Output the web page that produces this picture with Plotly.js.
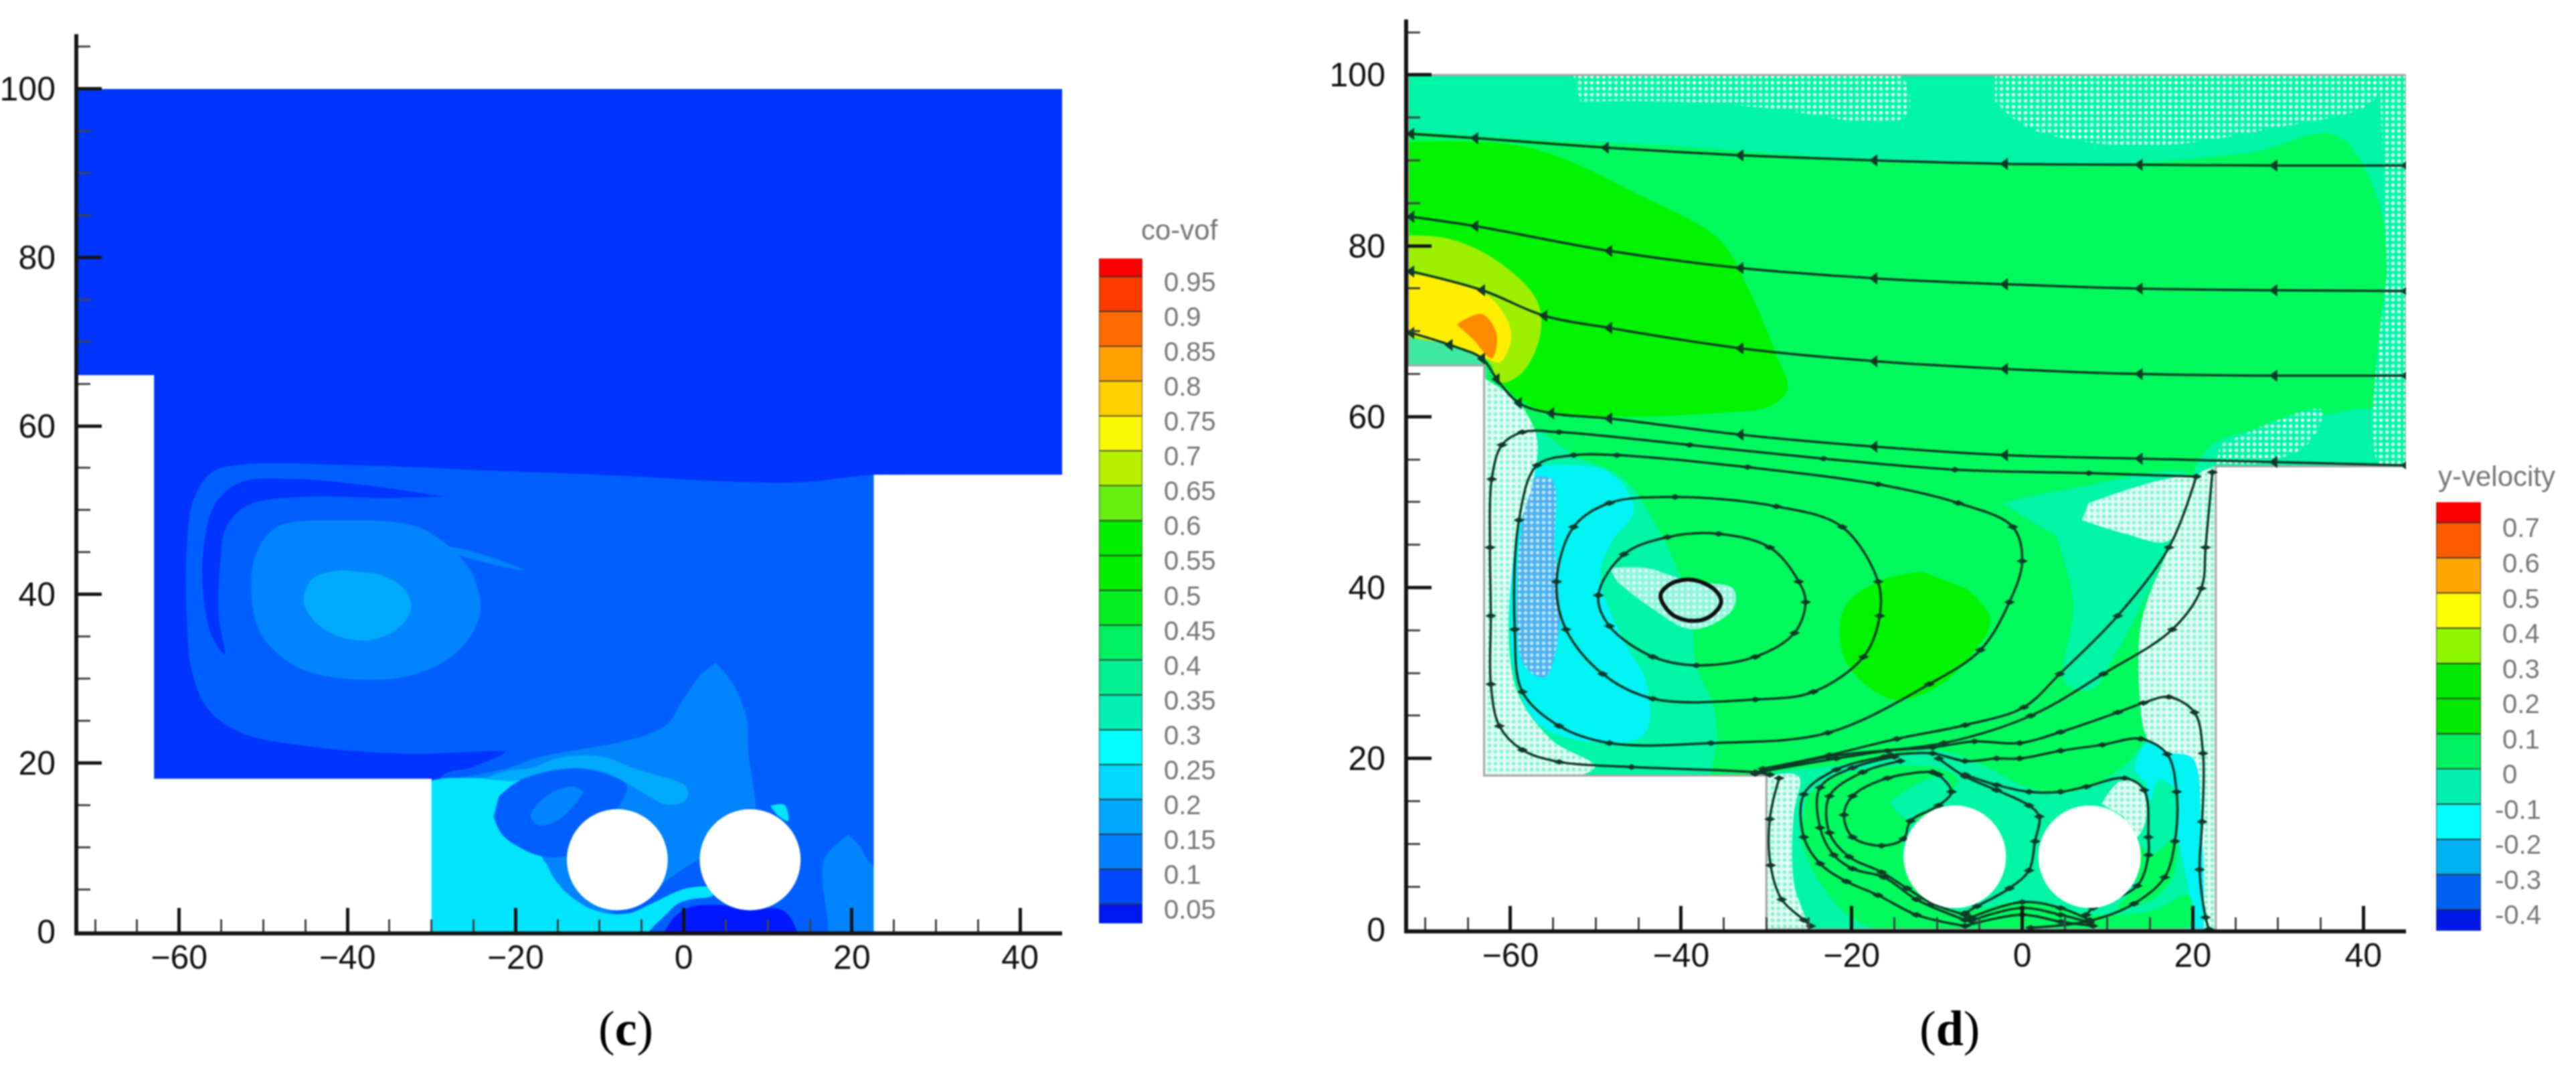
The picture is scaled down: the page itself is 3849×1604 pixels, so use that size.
<!DOCTYPE html>
<html>
<head>
<meta charset="utf-8">
<script src="https://cdn.plot.ly/plotly-3.0.1.min.js"></script>
<style>
html, body { margin: 0; padding: 0; background: #fff; }
#chart { width: 3849px; height: 1604px; filter: blur(1.1px); }
</style>
</head>
<body>
<div id="chart"></div>
<script>
// ---- legend data
const vofLow = [0, .05, .1, .15, .2, .25, .3, .35, .4, .45, .5, .55, .6, .65, .7, .75, .8, .85, .9, .95];
const vofColors = ['#0018f0', '#0048ff', '#0080ff', '#00a8ff', '#00d8ff', '#00ffff', '#00f0b8', '#00f090', '#00f060', '#00ee20',
    '#00ee00', '#00ee00', '#66ee11', '#b4f000', '#f8f800', '#ffd000', '#ffa000', '#ff6a00', '#ff3a00', '#ff0000'];
const vofTicks = [.05, .1, .15, .2, .25, .3, .35, .4, .45, .5, .55, .6, .65, .7, .75, .8, .85, .9, .95];
const vofLabels = ['0.05', '0.1', '0.15', '0.2', '0.25', '0.3', '0.35', '0.4', '0.45', '0.5', '0.55', '0.6', '0.65', '0.7', '0.75', '0.8', '0.85', '0.9', '0.95'];

const velLow = [-.6, -.4, -.3, -.2, -.1, 0, .1, .2, .3, .4, .5, .6, .7];
const velHeight = [.2, .1, .1, .1, .1, .1, .1, .1, .1, .1, .1, .1, .2];
const velColors = ['#0018e8', '#0060f0', '#00b0f0', '#00ffff', '#00f0b0', '#00f060', '#00e800', '#00e800', '#90f500', '#ffff00', '#ffa500', '#ff5a00', '#ff0000'];
const velTicks = [-.4, -.3, -.2, -.1, 0, .1, .2, .3, .4, .5, .6, .7];
const velLabels = ['-0.4', '-0.3', '-0.2', '-0.1', '\u00A00', '\u00A00.1', '\u00A00.2', '\u00A00.3', '\u00A00.4', '\u00A00.5', '\u00A00.6', '\u00A00.7'];

// ---- cylinders
const cylX = [-7.9, 7.9];
const cylY = [8.5, 8.5];
const cylR = [6, 6];

// ---- panel (c) regions
const cDomX = [-72, 45, 45, 22.6, 22.6, -30, -30, -63, -63, -72];
const cDomY = [100, 100, 54.2, 54.2, 0, 0, 18.1, 18.1, 66, 66];

const cSwirlX = [26, 22.6, 13.7, 5.1, -7.8, -20.8, -38, -52.7, -56.1, -58.3, -59.1, -59.1, -58.5, -56.6, -52.7, -44.9, -32.8, -22.5, -21.2, -25.1, -29, -33, 26];
const cSwirlY = [54.2, 54.2, 53.3, 53.4, 54.1, 54.6, 55.3, 55.4, 54.5, 51.2, 45.5, 37.4, 30.9, 26.4, 23.6, 22, 21.1, 21.4, 21.3, 19.5, 18.2, -3, -3];
const cStripX = [-28.5, -38, -46.6, -52.7, -55.7, -57, -57.2, -56.1, -54.6, -55.3, -55.1, -54.4, -51.8, -44.9, -36.3];
const cStripY = [51.6, 53, 53.7, 53.3, 50.8, 46.3, 40.7, 35, 32.9, 37.4, 43.9, 48, 50.6, 51.6, 51.4];
const cEyeX = [-42.3, -48.4, -50.9, -51.4, -50.1, -45.8, -38.9, -32, -26.8, -24.2, -25.1, -27.7, -31.6, -37.2];
const cEyeY = [48.8, 48, 44.7, 39.8, 35, 31.3, 29.9, 30.5, 33.3, 37.8, 42.3, 45.5, 48, 48.8];
const cTailX = [-31.3, -25.1, -19.1, -22.5, -27.7, -31.1];
const cTailY = [46.2, 45.1, 42.9, 43.5, 44.9, 45.8];
const cCoreX = [-40.6, -44.1, -45.2, -44.1, -41, -37.2, -33.7, -32.4, -33.7, -36.7];
const cCoreY = [42.9, 41.9, 39.4, 37, 35, 34.6, 36.2, 38.6, 41.1, 42.5];
const cPlumeX = [3.8, 5.9, 7.5, 7.7, 8.3, 8.5, 7.7, 1.8, .05, -1.8, -8, -31, -31, -29, -25.8, -20.9, -17.1, -12.9, -8.3, -4.5, -1.85, -.33, .8, 2];
const cPlumeY = [31.9, 29.3, 25.2, 21.1, 17.1, 14.6, 14.6, 8.6, 7.5, 6.2, 2.5, -3, 17.5, 18.1, 18.4, 19.4, 20.7, 21.5, 22.3, 23.3, 24.7, 27.1, 28.8, 30.5];
const cCyanX = [-31, -29, -25.8, -22, -20.1, -16.7, -16.3, -15.5, -13.6, -10.6, -6.8, -3.8, -1.1, .8, 3.1, 3.5, .8, -.7, -2.2, -4.1, -6, -31];
const cCyanY = [17.5, 18.1, 18.2, 18.2, 18.6, 8.5, 8, 6.4, 4.3, 2.5, 2.1, 3.3, 4.6, 5.2, 5.2, 4.3, 3.8, 3.3, 1.9, 0, -3, -3];
const cLobeX = [-22, -19.7, -16.3, -12.5, -9.1, -6.8, -7.9, -13.6, -16.7, -19.4, -21.6, -22.6];
const cLobeY = [16, 17.8, 18.9, 19.3, 18.6, 17.3, 14.6, 9.1, 8.9, 9.9, 11.5, 13.6];
const cLobeInX = [-12.9, -14.8, -17.1, -18.2, -17.1, -14.8, -12.7, -11.9];
const cLobeInY = [17.2, 16.9, 15.4, 13.6, 12.6, 13.3, 15.4, 16.6];
const cArcX = [-23.9, -20.9, -18.2, -15.2, -12.1, -9.1, -6, -3, .05, .55, .05, -2.2, -4.1, -6.8, -9.1, -12.5, -16.3, -20.1];
const cArcY = [18.1, 19.1, 19.4, 20.5, 20.9, 20.6, 19.4, 18.5, 17.4, 16.5, 15.4, 15.1, 16, 17.6, 18.8, 19.4, 19, 17.8];
const cFootX = [-2.2, -1.1, .8, 4.6, 6.9, 11.8, 13.4, 13.4, -2.2];
const cFootY = [.1, 1.7, 2.9, 3.1, 2.6, 2.5, .1, -2, -2];
const cWallX = [19.6, 16.8, 16.5, 17.2, 17.2, 26, 26, 22.6, 21];
const cWallY = [11.5, 8.8, 6.4, .5, -3, -3, 7.8, 7.8, 10.1];
const cBitX = [10.3, 12, 12.4, 11.1];
const cBitY = [14.9, 15, 13.1, 13.8];

const cMaskLeftX = [-72, -63, -63, -30, -30, -72];
const cMaskLeftY = [66, 66, 18.1, 18.1, 0, 0];
const cMaskRightX = [22.6, 45, 45, 22.6];
const cMaskRightY = [54.2, 54.2, 0, 0];
const maskTopX = [-72, 45, 45, -72];
const maskTopY = [100, 100, 107, 107];

// ---- panel (d) regions
const dDomX = [-72, 45, 45, 22.7, 22.7, -30, -30, -63.1, -63.1, -72];
const dDomY = [100, 100, 54.2, 54.2, 0, 0, 18, 18, 66, 66];

const dTopX = [-75, 48, 48, 22.7, 20.2, 22.3, 30, 38.5, 41.9, 42.8, 41.9, 36.8, 26.6, 9.5, -16, -41.6, -58.6, -75];
const dTopY = [103, 103, 52, 52, 53.1, 56.7, 59.1, 60.8, 61.6, 72.8, 84.8, 92.9, 90.9, 89.6, 90, 91.7, 92.5, 93.7];
const dDots1X = [-52.6, -14.3, -13.5, -17.7, -29.6, -41.6, -51.8];
const dDots1Y = [99.9, 99.9, 95.3, 94.5, 96.1, 96.9, 96.9];
const dDots2X = [-3.2, 41.9, 41.1, 29.1, 13.8, 1, -3.2];
const dDots2Y = [99.9, 99.9, 96.9, 93.7, 91.7, 93.7, 96.9];
const dDots3X = [41.9, 45, 45, 41.9, 42.8];
const dDots3Y = [99.9, 99.9, 54.3, 54.3, 76.8];
const dDots4X = [23.2, 35.1, 33.4, 26.6, 22.7];
const dDots4Y = [56.7, 60.8, 56.7, 54.3, 54.2];

const dGreenX = [-75, -60.3, -54.3, -45.8, -35.6, -32.2, -28.8, -27.5, -29.6, -36.5, -46.7, -55.2, -59.5, -62, -63.3, -75];
const dGreenY = [92.1, 91.9, 90.4, 86.4, 80.8, 75.2, 67.2, 63.2, 61.2, 60.4, 60, 60.4, 62.4, 65.6, 67.2, 68.8];
const dLimeX = [-75, -67.1, -61.2, -56.9, -56.5, -58.6, -61.2, -62.9, -75];
const dLimeY = [81.2, 80.8, 78, 73.6, 69.6, 65.2, 64, 66.8, 69.6];
const dYellowX = [-75, -67.1, -62, -59.9, -61.2, -62.9, -66.3, -75];
const dYellowY = [76.8, 76, 73.6, 69.6, 66.4, 66.8, 68, 70.4];
const dOrangeX = [-66.3, -63.3, -61.6, -62.2, -64.1];
const dOrangeY = [70.8, 72, 69.6, 66.8, 68.8];
const dCornerX = [-75, -67.1, -63.3, -63.1, -75];
const dCornerY = [69.6, 68.4, 66.8, 64, 64];
const dBlobX = [-11.8, -16.9, -20.7, -21.4, -20.3, -15.2, -10.1, -5.8, -3.7, -6.6];
const dBlobY = [41.9, 40.7, 37.9, 34.3, 30.7, 26.9, 28.3, 32.3, 36.3, 39.9];

const dTealX = [-66, -62.9, -56.9, -52.6, -46.7, -42.4, -39, -38.2, -36, -36, -38.2, -66];
const dTealY = [60, 57.5, 58.3, 55.5, 52.7, 46.3, 38.3, 31.1, 25.4, 20.6, 16, 16];
const dCyanX = [-56.9, -48.4, -45.5, -48, -49.5, -47, -44, -44.5, -56, -59.5, -59.5];
const dCyanY = [54.3, 53.5, 49.1, 45.5, 41.5, 34.3, 28.7, 22.6, 23.5, 30.3, 48.7];
const dBlueX = [-58, -55.2, -54.8, -54.3, -56, -58.5, -59];
const dBlueY = [52.7, 52.7, 44.7, 35.1, 29.5, 31.1, 44.7];
const dWallX = [-66, -62.9, -59, -56.9, -57.3, -59.5, -59.5, -55.2, -50.1, -62.9, -66];
const dWallY = [66, 64.4, 61.6, 57.5, 52.7, 44.7, 28.7, 22.2, 19, 16, 16];
const dStarX = [-48.4, -44.1, -39, -33.9, -33.9, -38.6, -43.3, -47.5];
const dStarY = [42.3, 42.3, 40.7, 39.9, 37.5, 35.1, 37.5, 40.7];

const dMidTealX = [-2.4, 5.3, 19.8, 17.2, 11.2, 8, 5, 6, 4];
const dMidTealY = [49.9, 51.5, 53, 44.7, 32.7, 28, 29, 38, 46];
const dPaleRX = [26, 22.7, 20.4, 17.2, 14, 13.8, 14.7, 18.1, 20.6, 21.5, 26];
const dPaleRY = [54.2, 54.2, 53, 44.7, 36, 27, 22.2, 18.2, 8.6, -3, -3];
const dPatchX = [7.8, 20.2, 17.2, 12.1, 7];
const dPatchY = [49.9, 52.7, 45.5, 46.3, 47.9];

const dLowTealX = [-33, -30, -21.9, -14.4, -9.5, -4.6, .7, 4.8, 8.2, 11.6, 14.2, 15.3, 19.5, 26, 26, -33];
const dLowTealY = [16, 18.1, 19.2, 20.6, 20.9, 19.2, 16.6, 16, 16.8, 18.9, 21.8, 23.9, 26.5, 26.5, -3, -3];
const dLowCyanX = [13.1, 14.6, 17.2, 20, 21, 21.3, 21, 20.2, 19.5, 18.3, 18.2, 16, 15, 14.6];
const dLowCyanY = [18.7, 21.8, 20.7, 20, 12, 4, -1, -1, 4.8, 10.8, 16, 17.5, 15, 17];
const dLowPaleX = [-33, -29.8, -26.2, -26.8, -26.8, -24.9, -33];
const dLowPaleY = [16, 17.9, 17.9, 13.4, 5.6, -2, -2];
const dLowGreenX = [-25.3, -21.9, -16.2, -9.9, -7.6, -9.9, -13.2, -14, -12.1, -7.6, -.1, 8.2, 15.3, 19.5, 19.5, -18.1, -23.8, -26];
const dLowGreenY = [15.5, 17.9, 19, 18.9, 17.6, 14.2, 11.9, 8.2, 4.8, 2.2, 3.2, 1.7, 2.2, 4, .4, .4, 5.6, 10.8];
const dInnerX = [-15.5, -12.1, -9.1, -8.3, -10.6, -13.2, -14.7];
const dInnerY = [15, 17.1, 17.9, 16, 14.2, 12.9, 13.7];
const dLobeRX = [13.4, 15, 18, 17.6, 15.3, 11.2, 13.4];
const dLobeRY = [10.8, 8.7, 10.5, 6.1, 3.5, 2.5, 5];
const dPaleUpX = [9.3, 11.6, 13.8, 14.6, 13.4, 11.9];
const dPaleUpY = [14.7, 17.4, 16.8, 13.4, 10.8, 13.2];

const dMaskLeftX = [-72, -63.1, -63.1, -30, -30, -72];
const dMaskLeftY = [66, 66, 18, 18, 0, 0];
const dMaskRightX = [22.7, 45, 45, 22.7];
const dMaskRightY = [54.2, 54.2, 0, 0];

// ---- panel (d) streamlines
const s1X = [-71.6, -64.1, -48.8, -33, -17.3, -2, 13.8, 29.6, 45];
const s1Y = [93.1, 92.6, 91.5, 90.6, 90, 89.6, 89.5, 89.4, 89.4];
const s2X = [-71.6, -64.1, -48.4, -33, -17.3, -2, 13.8, 29.6, 45];
const s2Y = [83.4, 82.3, 79.4, 77.4, 76.2, 75.5, 75, 74.8, 74.7];
const s3X = [-71.6, -63.3, -56, -48.4, -33, -17.3, -2, 13.8, 29.6, 45];
const s3Y = [77, 74.8, 71.8, 70.4, 68, 66.5, 65.6, 65, 64.8, 64.8];
const s4X = [-71.6, -67.1, -63.3, -61.6, -59, -55.2, -48.4, -33, -17.3, -2, 13.8, 29.6, 45];
const s4Y = [69.8, 68.4, 66.8, 64.4, 61.6, 60.4, 59.8, 57.9, 56.5, 55.5, 55.1, 54.7, 54.3];
const s5X = [20.4, 7.8, -7.9, -23.3, -39, -54.3, -58.6, -61, -62.2, -62.4, -62.3, -62.3, -61.3, -58.6, -54.3, -45.8, -31.3, -29.6];
const s5Y = [53, 53.4, 53.8, 55.1, 56.7, 58.2, 58.2, 56.7, 52.7, 44.7, 36.7, 28.7, 23.8, 21, 19.6, 19, 18.4, 18.1];

const v0X = [-42.4, -41.1, -38.6, -36, -35.3, -36.5, -38.6, -41.1, -42.4];
const v0Y = [39.1, 40.5, 40.9, 39.7, 38.3, 36.7, 36.1, 36.9, 39.1];
const v1X = [-49.7, -46.7, -41.6, -35.6, -29.6, -26.2, -25.4, -26.7, -31.3, -38.2, -43.3, -48.4, -49.7];
const v1Y = [39.1, 43.9, 45.9, 46.3, 44.7, 40.7, 38.3, 34.7, 31.9, 30.9, 31.9, 35.5, 39.1];
const v2X = [-54.6, -52.6, -48.4, -40.7, -28.8, -21.1, -16.9, -16.7, -18.6, -24.5, -31.3, -43.3, -49.2, -53.5, -54.6];
const v2Y = [40.7, 47.1, 49.9, 50.6, 49.5, 47.1, 40.7, 36.7, 31.9, 27.8, 26.9, 27, 29.9, 35.1, 40.7];
const v3X = [-59.5, -59, -56.9, -52.6, -47.5, -32.2, -16.9, -7.5, -1.1, 0, -1.5, -4.9, -10.9, -22.8, -36.5, -48.4, -54.3, -58.6, -59.5];
const v3Y = [35.1, 47.9, 54.3, 55.5, 55.5, 54.1, 52.1, 49.9, 47.1, 43.1, 38.3, 32.7, 28.7, 23, 21.8, 21.8, 23.8, 27.8, 35.1];

const aX = [-30.4, -22.6, -14.7, -6.7, .2, 4.4, 11.2, 17.2, 20.4];
const aY = [18.8, 20.4, 22.3, 23.9, 26, 29.9, 36.7, 44.7, 53];
const a2X = [22.3, 21.5, 21, 17.6, 9.5, 1, -9.2, -22.8, -31.3];
const a2Y = [53.5, 44.7, 39.9, 35.1, 29.9, 25, 21.8, 20.2, 18.2];
const bX = [-30.4, -21.8, -15.8, -10.5, -5.6, -.3, 4.5, 11.2, 14.2, 17.2, 20.2, 21.2, 21.1, 20.8, 21.5, 21.9];
const bY = [18.5, 20, 20.9, 21.3, 22, 21.8, 23.1, 25.4, 26.5, 27.2, 25.4, 20.6, 12.6, 7, 1.4, 0];
const cX = [-15.4, -10.5, -6.7, -3, -.3, 4.5, 9.4, 13.9, 17, 18.1, 17.9, 16.7, 13.1, 7.9, 1];
const cY = [20.4, 20.6, 19.7, 20, 20, 20.9, 21.6, 22.3, 20.5, 16.1, 10.3, 6.1, 3, 1, .2];
const dX = [-6.7, -3, .8, 4.5, 7.5, 12, 14.3, 14.8, 14.8, 13.5, 8.3, 7.5];
const dY = [18.1, 16.9, 16.1, 16.1, 16.7, 17.7, 16.3, 10.8, 8.7, 5.1, 2.5, 1.7];
const eX = [-9.8, -6.7, -3, .8, 2, 1.5, .8, -1.5, -5.3, -6.7];
const eY = [20, 17.9, 16.3, 14.5, 13.2, 10.3, 6.9, 4.8, 2.7, 1.9];
const l1X = [-28.5, -29.6, -29.5, -28.2, -25.6, -24.8];
const l1Y = [17.7, 12.9, 7.5, 3.5, 1.1, .4];
const l2X = [-16.2, -21.8, -25.6, -25.6, -23.7, -20.6, -16.9, -12.4, -6.7];
const l2Y = [20.2, 18.7, 15.8, 10.8, 7.7, 5.6, 4, 1.7, .4];
const l3X = [-15, -19.9, -23.7, -23.7, -22.1, -19.9, -16.2, -12.4, -6.7];
const l3Y = [20.2, 18.9, 16.6, 11.9, 8.7, 7.1, 6.1, 3.5, 1.1];
const l4X = [-14.3, -18.7, -22.6, -22.6, -20.3, -16.5, -13.5, -10.5, -6.7];
const l4Y = [19.7, 18.4, 15.6, 11.3, 8.5, 6.7, 4.8, 3, 1.7];
const l5X = [-10.5, -15.8, -19.9, -20.9, -19.9, -16.5, -13.9, -13.1, -9.8, -8.3, -9.8, -10.5];
const l5Y = [18.4, 17.7, 15.6, 13.4, 10.8, 9.8, 10.6, 12.7, 14.5, 16.1, 18.1, 18.4];
const f1X = [-6, 0, 4.5, 7.9];
const f1Y = [1.4, 3.2, 2.5, 1.1];
const f2X = [-6, 0, 4.5, 7.9];
const f2Y = [1, 2.5, 1.7, .8];
const f3X = [-6.7, 0, 4.5, 8.3];
const f3Y = [.4, 1.7, .9, .4];

const topLines = [[s1X, s1Y], [s2X, s2Y], [s3X, s3Y], [s4X, s4Y]];
const swirlLines = [[s5X, s5Y], [v1X, v1Y], [v2X, v2Y], [v3X, v3Y], [aX, aY], [a2X, a2Y], [bX, bY], [cX, cY], [dX, dY], [eX, eY],
    [l1X, l1Y], [l2X, l2Y], [l3X, l3Y], [l4X, l4Y], [l5X, l5Y], [f1X, f1Y], [f2X, f2Y], [f3X, f3Y]];

// ---- colours of the two fields
const blueDark = '#0034ff';
const blueMid = '#0060ff';
const blueLight = '#0084ff';
const blueSky = '#00aaff';
const cyanVof = '#00e4ff';
const blueDeep = '#0018ff';

const fieldGreen = '#00fa5e';
const fieldPure = '#00f400';
const fieldTeal = '#00f5a5';
const fieldCyan = '#00f4f4';
const fieldPale = '#e2fbf4';

function region(x, y, color, xa, ya) {
    return {
        x: x, y: y, xaxis: xa, yaxis: ya,
        type: 'scatter', mode: 'lines', fill: 'toself', fillcolor: color,
        line: {width: 1, color: 'rgba(0,0,0,0)', shape: 'spline', smoothing: 1},
        hoverinfo: 'skip', showlegend: false
    };
}

function flat(x, y, color, xa, ya) {
    const trace = region(x, y, color, xa, ya);
    trace.line.shape = 'linear';
    return trace;
}

function dotted(x, y, bg, fg, xa, ya) {
    const trace = region(x, y, bg, xa, ya);
    trace.fillpattern = {shape: '.', size: 9, solidity: 0.3, fgcolor: fg, bgcolor: bg};
    return trace;
}

function streamline(xy, symbol, size, width) {
    return {
        x: xy[0], y: xy[1], xaxis: 'x2', yaxis: 'y2',
        type: 'scatter', mode: 'lines+markers',
        line: {color: '#0f3a28', width: width, shape: 'spline', smoothing: 1},
        marker: {symbol: symbol, size: size, color: '#0f3a28'},
        hoverinfo: 'skip', showlegend: false
    };
}

const panelC = [
    flat(cDomX, cDomY, blueDark, 'x', 'y'),
    region(cSwirlX, cSwirlY, blueMid, 'x', 'y'),
    region(cStripX, cStripY, blueDark, 'x', 'y'),
    region(cEyeX, cEyeY, blueLight, 'x', 'y'),
    region(cTailX, cTailY, blueLight, 'x', 'y'),
    region(cCoreX, cCoreY, blueSky, 'x', 'y'),
    region(cPlumeX, cPlumeY, blueLight, 'x', 'y'),
    region(cCyanX, cCyanY, cyanVof, 'x', 'y'),
    region(cLobeX, cLobeY, blueMid, 'x', 'y'),
    region(cLobeInX, cLobeInY, blueLight, 'x', 'y'),
    region(cArcX, cArcY, blueSky, 'x', 'y'),
    region(cFootX, cFootY, blueDeep, 'x', 'y'),
    region(cWallX, cWallY, blueLight, 'x', 'y'),
    region(cBitX, cBitY, cyanVof, 'x', 'y'),
    flat(cMaskLeftX, cMaskLeftY, '#ffffff', 'x', 'y'),
    flat(cMaskRightX, cMaskRightY, '#ffffff', 'x', 'y'),
    flat(maskTopX, maskTopY, '#ffffff', 'x', 'y')
];

const speckTeal = '#7ff5d0';
const speckWhite = '#d8fdf2';

const panelD = [
    flat(dDomX, dDomY, fieldGreen, 'x2', 'y2'),
    region(dTopX, dTopY, fieldTeal, 'x2', 'y2'),
    dotted(dDots1X, dDots1Y, fieldTeal, speckWhite, 'x2', 'y2'),
    dotted(dDots2X, dDots2Y, fieldTeal, speckWhite, 'x2', 'y2'),
    dotted(dDots3X, dDots3Y, fieldTeal, speckWhite, 'x2', 'y2'),
    dotted(dDots4X, dDots4Y, fieldTeal, speckWhite, 'x2', 'y2'),
    region(dGreenX, dGreenY, fieldPure, 'x2', 'y2'),
    region(dLimeX, dLimeY, '#9cf000', 'x2', 'y2'),
    region(dYellowX, dYellowY, '#ffee00', 'x2', 'y2'),
    region(dOrangeX, dOrangeY, '#ff8a00', 'x2', 'y2'),
    region(dCornerX, dCornerY, '#40e8a0', 'x2', 'y2'),
    region(dBlobX, dBlobY, fieldPure, 'x2', 'y2'),
    region(dTealX, dTealY, fieldTeal, 'x2', 'y2'),
    region(dCyanX, dCyanY, fieldCyan, 'x2', 'y2'),
    dotted(dBlueX, dBlueY, '#4fb0f0', '#b8e8f5', 'x2', 'y2'),
    dotted(dWallX, dWallY, fieldPale, speckTeal, 'x2', 'y2'),
    dotted(dStarX, dStarY, '#8ef5de', speckWhite, 'x2', 'y2'),
    region(dMidTealX, dMidTealY, fieldTeal, 'x2', 'y2'),
    region(dLowTealX, dLowTealY, fieldTeal, 'x2', 'y2'),
    dotted(dPaleRX, dPaleRY, fieldPale, speckTeal, 'x2', 'y2'),
    dotted(dPatchX, dPatchY, fieldPale, speckTeal, 'x2', 'y2'),
    region(dLowCyanX, dLowCyanY, fieldCyan, 'x2', 'y2'),
    dotted(dLowPaleX, dLowPaleY, fieldPale, speckTeal, 'x2', 'y2'),
    region(dLowGreenX, dLowGreenY, fieldGreen, 'x2', 'y2'),
    region(dInnerX, dInnerY, fieldTeal, 'x2', 'y2'),
    region(dLobeRX, dLobeRY, fieldGreen, 'x2', 'y2'),
    dotted(dPaleUpX, dPaleUpY, fieldPale, speckTeal, 'x2', 'y2'),
    flat(dMaskLeftX, dMaskLeftY, '#ffffff', 'x2', 'y2'),
    flat(dMaskRightX, dMaskRightY, '#ffffff', 'x2', 'y2'),
    flat(maskTopX, maskTopY, '#ffffff', 'x2', 'y2'),
    {
        x: dDomX.concat(dDomX[0]), y: dDomY.concat(dDomY[0]), xaxis: 'x2', yaxis: 'y2',
        type: 'scatter', mode: 'lines', line: {color: '#a5a5a5', width: 3},
        hoverinfo: 'skip', showlegend: false
    }
];

const streams = topLines.map(function (xy) { return streamline(xy, 'triangle-left', 16, 3.5); })
    .concat(swirlLines.map(function (xy) { return streamline(xy, 'diamond-wide', 12, 3.5); }))
    .concat([{
        x: v0X, y: v0Y, xaxis: 'x2', yaxis: 'y2', type: 'scatter', mode: 'lines',
        line: {color: '#101010', width: 6, shape: 'spline', smoothing: 1},
        hoverinfo: 'skip', showlegend: false
    }]);

const legendC = {
    x: vofLow.map(function () { return 0; }), y: vofLow.map(function () { return .05; }), base: vofLow,
    xaxis: 'x3', yaxis: 'y3', type: 'bar', width: 1, orientation: 'v',
    marker: {color: vofColors, line: {color: '#333333', width: 1.5}},
    hoverinfo: 'skip', showlegend: false
};
const legendD = {
    x: velLow.map(function () { return 0; }), y: velHeight, base: velLow,
    xaxis: 'x4', yaxis: 'y4', type: 'bar', width: 1, orientation: 'v',
    marker: {color: velColors, line: {color: '#333333', width: 1.5}},
    hoverinfo: 'skip', showlegend: false
};

const W = 3849;
const H = 1604;
const tickFont = {family: 'Liberation Sans, Arial, sans-serif', size: 50, color: '#101010'};
const legendFont = {family: 'Liberation Sans, Arial, sans-serif', size: 40, color: '#777777'};

function fieldX(x0, x1, anchor) {
    return {
        domain: [x0 / W, x1 / W], anchor: anchor, range: [-72, 45], tick0: 0, dtick: 20,
        ticks: 'inside', ticklen: 35, tickwidth: 5, tickcolor: '#151515', tickfont: tickFont,
        ticklabelstandoff: -10, showline: true, linecolor: '#151515', linewidth: 6,
        showgrid: false, zeroline: false, automargin: false,
        minor: {dtick: 5, tick0: 0, ticks: 'inside', ticklen: 18, tickwidth: 3, tickcolor: '#444444', showgrid: false}
    };
}

function fieldY(y0, y1, anchor) {
    return {
        domain: [1 - y1 / H, 1 - y0 / H], anchor: anchor, range: [0, 106.5], tick0: 0, dtick: 20,
        ticks: 'inside', ticklen: 35, tickwidth: 5, tickcolor: '#151515', tickfont: tickFont,
        ticklabelstandoff: 18, showline: true, linecolor: '#151515', linewidth: 6,
        showgrid: false, zeroline: false, automargin: false,
        minor: {dtick: 5, tick0: 0, ticks: 'inside', ticklen: 18, tickwidth: 3, tickcolor: '#444444', showgrid: false}
    };
}

function legendX(x0, x1, anchor) {
    return {domain: [x0 / W, x1 / W], anchor: anchor, range: [-.5, .5], visible: false, fixedrange: true};
}

function legendY(y0, y1, anchor, range, vals, labels, shift, standoff) {
    return {
        domain: [1 - y1 / H, 1 - y0 / H], anchor: anchor, side: 'right', range: range,
        tickmode: 'array', tickvals: vals, ticktext: labels, ticks: '', tickfont: legendFont,
        ticklabelshift: shift, ticklabelstandoff: standoff,
        showline: false, showgrid: false, zeroline: false, automargin: false, fixedrange: true
    };
}

function cylinder(i, xref, yref) {
    return {
        type: 'circle', xref: xref, yref: yref, layer: 'above',
        x0: cylX[i] - cylR[i], x1: cylX[i] + cylR[i], y0: cylY[i] - cylR[i], y1: cylY[i] + cylR[i],
        fillcolor: '#ffffff', line: {width: 0}
    };
}

function caption(text, px, py) {
    return {
        text: text, xref: 'paper', yref: 'paper', x: px / W, y: 1 - py / H, xanchor: 'center', yanchor: 'middle', showarrow: false,
        font: {family: 'Liberation Serif, Times New Roman, serif', size: 74, color: '#000000'}
    };
}

function legendTitle(text, px, py) {
    return {
        text: text, xref: 'paper', yref: 'paper', x: px / W, y: 1 - py / H, xanchor: 'center', yanchor: 'middle', showarrow: false,
        font: {family: 'Liberation Sans, Arial, sans-serif', size: 42, color: '#777777'}
    };
}

const layout = {
    width: W, height: H,
    margin: {l: 0, r: 0, t: 0, b: 0},
    paper_bgcolor: '#ffffff', plot_bgcolor: 'rgba(0,0,0,0)',
    showlegend: false,
    xaxis: fieldX(117, 1587, 'y'),
    yaxis: fieldY(51, 1391, 'x'),
    xaxis2: fieldX(2104, 3595, 'y2'),
    yaxis2: fieldY(29, 1388, 'x2'),
    xaxis3: legendX(1642, 1707, 'y3'),
    yaxis3: legendY(386, 1379, 'x3', [.0221, .976], vofTicks, vofLabels, 8, 31),
    xaxis4: legendX(3640, 3707, 'y4'),
    yaxis4: legendY(750, 1390, 'x4', [-.46, .758], velTicks, velLabels, 8, 20),
    shapes: [cylinder(0, 'x', 'y'), cylinder(1, 'x', 'y'), cylinder(0, 'x2', 'y2'), cylinder(1, 'x2', 'y2')],
    annotations: [
        caption('(<b>c</b>)', 935, 1536),
        caption('(<b>d</b>)', 2913, 1536),
        legendTitle('co-vof', 1762, 344),
        legendTitle('y-velocity', 3730, 711)
    ]
};

Plotly.newPlot('chart', panelC.concat(panelD, streams, [legendC, legendD]), layout, {displayModeBar: false, staticPlot: true});
</script>
</body>
</html>
